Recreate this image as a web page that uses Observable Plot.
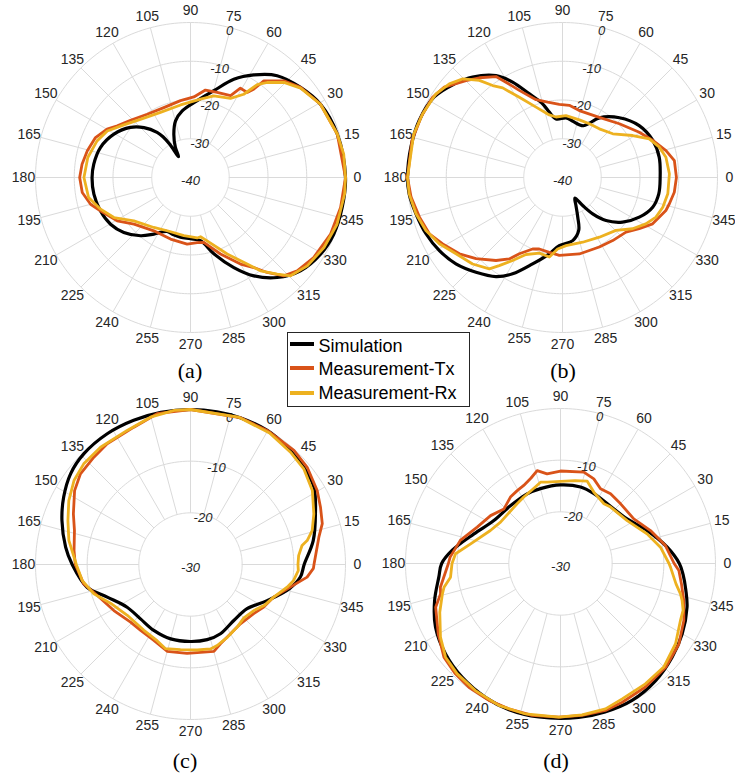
<!DOCTYPE html>
<html><head><meta charset="utf-8">
<script src="https://cdn.jsdelivr.net/npm/d3@7"></script>
<script src="https://cdn.jsdelivr.net/npm/@observablehq/plot@0.6"></script>
<style>
html,body{margin:0;padding:0;background:#fff;overflow:hidden;}
#root{position:relative;width:735px;height:781px;background:#fff;overflow:hidden;}
.panel{position:absolute;width:370px;height:356px;}
.cap{position:absolute;font-family:"Liberation Serif","Times New Roman",serif;font-size:22px;line-height:22px;color:#000;transform:translate(-50%,-50%);white-space:nowrap;}
#legend{position:absolute;left:287px;top:332px;width:183px;height:75px;box-sizing:border-box;border:1px solid #262626;background:#fff;font-family:"Liberation Sans",Arial,sans-serif;font-size:18px;line-height:18px;color:#000;z-index:5;}
#legend .sw{position:absolute;left:1.5px;width:24px;height:4px;}
#legend .lb{position:absolute;left:30.5px;white-space:nowrap;}
</style></head>
<body><div id="root"></div>
<script>
// ---- tick definitions ----
const thetaTicks = d3.range(0, 360, 15);
const ringsAB = [-30, -20, -10, 0];
const rTicksAB = [-40, -30, -20, -10, 0];
const ringsCD = [-20, -10, 0];
const rTicksCD = [-30, -20, -10, 0];
const seriesNames = ["Simulation", "Measurement-Tx", "Measurement-Rx"];
const seriesColors = ["#000000", "#D95319", "#EDB120"];
const captions = ["(a)", "(b)", "(c)", "(d)"];

// ---- data: [angle (deg), gain (dB)] ----
const aSim = [[0,0],[16.5,-0.5],[29.4,-1.5],[39.3,-3.3],[49.6,-5.5],[58.3,-8.9],[66.2,-12.3],[74.9,-16.8],[85,-20.1],[97.1,-22.7],[104.8,-24.9],[111,-28],[116.6,-31.3],[119.7,-33.8],[122,-29.8],[124,-27.3],[126.5,-25.5],[133,-22.4],[140.2,-19.8],[150.5,-17.3],[161.6,-15.5],[172.1,-14.8],[180,-14.6],[189.8,-14.7],[200.3,-15.2],[210.3,-16.1],[219.5,-17.7],[229.4,-20.2],[237.1,-22.6],[246.4,-24.8],[253,-24.6],[260.4,-24.4],[270,-24.2],[279,-23.5],[287,-19.4],[295.7,-14.2],[302.8,-9.8],[310.9,-5.85],[319.7,-2.8],[329.5,-1.05],[338.4,-0.25],[348.8,-0.1]];
const aTx = [[0,0],[16.5,-0.5],[29.4,-1.5],[39.3,-3.3],[46,-5.3],[52.8,-8.7],[54.4,-12],[56.3,-13.6],[60.8,-13.6],[63.9,-16.5],[72.6,-17],[80.3,-17.1],[87.6,-19.2],[97.4,-20],[110.9,-20.7],[124.4,-20.2],[136.3,-18.6],[144.8,-16.9],[149.9,-15.1],[157.2,-13.4],[165.5,-12.5],[173,-11.8],[180,-11.4],[187.9,-11.8],[195,-13.3],[200.3,-15.2],[210.6,-18],[219.5,-21.1],[235.5,-23.3],[252,-23.3],[267.1,-22.8],[275.9,-23.1],[281.6,-22.9],[291.4,-18.8],[300,-14.2],[305.1,-11.6],[308.9,-8.5],[313.5,-5],[318.8,-3.4],[327,-2.1],[338,-1],[348.7,-0.5]];
const aRx = [[0,0],[8.7,0],[16.5,-0.5],[29.4,-1.5],[39.1,-3.4],[45.5,-5.6],[51.1,-8.5],[54.3,-10.5],[57.4,-14.5],[63.2,-17.1],[74.1,-18.1],[82.7,-19.6],[97.8,-21.1],[114.8,-21.5],[130.8,-20.2],[141.7,-18.1],[150.8,-15.4],[158.6,-14.1],[169,-13],[180,-12.5],[191.1,-13.2],[199.4,-15.4],[207.6,-17.7],[217.4,-21.6],[233.7,-24],[246.4,-25],[263.5,-24.9],[276.3,-24.3],[279.6,-24.5],[284.7,-23.1],[295.6,-18.1],[303.2,-13.3],[306.9,-9.9],[311.9,-6.5],[315.5,-3.8],[322.9,-2.2],[332.3,-1.1],[342.3,-0.3],[353.9,0]];

const bSim = [[0,-14.8],[11.9,-14.5],[22.3,-14.8],[34.1,-16.1],[46.4,-18.7],[58.3,-21.9],[63.7,-24.4],[68,-25.6],[72.4,-25.7],[80,-25.2],[86.6,-24.6],[96.3,-24.8],[101.4,-22.8],[105.1,-20.3],[111.6,-16.8],[117.6,-12.2],[123.1,-8.6],[131.8,-5.2],[139.1,-3.1],[147.9,-0.9],[158.3,-0.2],[168.6,-0.1],[180,0],[186.1,-0.2],[193.9,-1.05],[202.4,-1.9],[210.7,-3.05],[219,-4.6],[227.6,-6.9],[236.1,-9.2],[242.6,-12],[250.9,-16.4],[260.2,-20],[267.3,-22.4],[279.2,-23.5],[287,-25.7],[291,-29],[295.7,-32],[301,-33.8],[305.8,-31.1],[309.7,-27.8],[315.3,-24.2],[323.4,-20.7],[332.7,-17.7],[341.8,-15.5],[350.4,-14.8]];
const bTx = [[0,-10.6],[8.6,-10.8],[14.6,-12.4],[22.3,-14.8],[30.5,-17],[43.4,-19.8],[58.6,-21.8],[75.9,-22.2],[84.6,-21.3],[92.5,-21.1],[101.1,-20.2],[108.8,-18.8],[116.4,-14.9],[120.7,-11.4],[123.4,-8.8],[129.8,-6.5],[134.9,-4.7],[142.6,-1.6],[148.3,-0.6],[156.9,-0.3],[166.3,0],[180,0],[187.4,-0.6],[195.5,-1.7],[202.9,-2.7],[209,-4.65],[216.5,-6.9],[223.2,-9.4],[231.3,-12.55],[236.8,-14.9],[240.5,-17.4],[247.3,-20],[252,-20.6],[260,-20.4],[267.7,-19.9],[282.4,-19.8],[297.9,-19.7],[308.5,-19.2],[319.3,-18.4],[326.3,-16.2],[332.8,-13.85],[342.3,-12],[346.2,-11.6],[352.5,-10.9]];
const bRx = [[2,-12.4],[11.1,-12.8],[17.4,-13.8],[24,-15.5],[30.9,-18.9],[41,-22.8],[52.9,-24.25],[63.4,-24.5],[73.7,-24.5],[86.8,-24],[96.1,-24.3],[101.9,-23.5],[110.6,-20.6],[118.3,-16.5],[123.7,-12.2],[127.2,-10.2],[130.6,-7],[135.3,-3.8],[140.4,-2.1],[146.5,-0.85],[155.5,-0.35],[163.8,0],[180,0],[186.1,-0.2],[193.9,-1.05],[201.2,-2.2],[208.3,-3.9],[215.6,-6.2],[223.9,-7.8],[231.3,-9.8],[234.3,-12],[239,-15],[244.6,-18],[253,-19.6],[260.6,-19.2],[266.1,-21.5],[273,-22.4],[287.3,-22.5],[301.7,-21.9],[315.3,-20.6],[323.8,-17.6],[330.9,-15.4],[337,-13.8],[343.5,-13],[351.2,-12.5]];

const cSim = [[0,-8],[11,-5.8],[22.1,-3.9],[32.1,-1.8],[40.7,-1.1],[50.5,-0.6],[60.2,-0.1],[71.3,0],[80.2,0],[90,0],[101,0],[111.5,0],[122.5,0],[134,-0.25],[142.9,-0.9],[152,-2.2],[161.1,-3.7],[172.1,-5.6],[180,-7.1],[192.4,-9.5],[201.4,-12.7],[214,-15.2],[227.4,-15.7],[240.9,-15.4],[255.1,-15.1],[270,-15.1],[282.5,-15.1],[293.4,-15.4],[307.7,-16.3],[322,-16.1],[334.8,-13.6],[346.3,-10.3],[353.5,-8.6]];
const cTx = [[0,-6.1],[12,-4.6],[17.2,-3.3],[23.8,-2.5],[30.3,-1.6],[39.8,-0.6],[47.8,-0.2],[60.2,-0.1],[71.4,0],[90,0],[102.5,-0.1],[112.4,-1.25],[124.6,-1.6],[132,-2.05],[140.5,-2.4],[147.5,-3.4],[156.6,-5.3],[163.7,-6.6],[173.2,-7.3],[180,-7.7],[190.3,-9],[198.4,-11],[211,-12.7],[223.9,-13.9],[232.9,-14],[244.2,-13.7],[254.9,-12.6],[267.8,-12.8],[276.5,-12.9],[285.1,-12.6],[290.7,-13.6],[300,-14.5],[310.1,-15],[322.1,-14.5],[329.8,-13.6],[338.6,-12.7],[347.2,-10.2],[353.8,-7.3],[358.2,-6.2]];
const cRx = [[0,-9.2],[4.7,-9],[9.7,-8.1],[11.6,-6.95],[15.6,-5.55],[22.3,-4.2],[31.3,-2.4],[40.2,-1.3],[48.3,-0.9],[59,-0.3],[72,0],[90,0],[96,0],[105.2,-0.45],[115.3,-1.3],[127.5,-1.4],[136.7,-1.6],[144.2,-2.2],[152.3,-3.4],[160.3,-4.8],[168.8,-6],[180,-7.9],[188.3,-8.8],[196.9,-10.45],[205.8,-12.8],[218.8,-14.3],[234.7,-14.4],[246.3,-13.9],[253.5,-13],[263.3,-13.4],[274.5,-13.4],[283.3,-13.2],[288.2,-13.5],[296.8,-14.2],[306.7,-14.9],[315,-15.4],[324,-14.85],[330.8,-13.7],[338.6,-12.7],[346.8,-10.8],[351.2,-9.8],[356.8,-9.1]];

const dSim = [[0,-7],[8.7,-9.1],[20.8,-12.05],[33.8,-14.5],[50.4,-15.3],[64.4,-15],[75.3,-14.7],[90,-14.8],[105,-15],[115.6,-15.05],[131.6,-15.2],[147.2,-14.65],[161.1,-12.3],[173,-8.9],[180,-7],[186.4,-6.3],[196.4,-4.6],[207,-2.85],[218.1,-1.7],[229.1,-0.9],[240.7,-0.3],[250.6,0],[262,0],[276.7,0],[286.7,0],[297.6,-0.1],[309.1,-0.8],[320,-1.8],[330,-2.8],[341,-4.1],[348,-5.2],[355,-6.2]];
const dTx = [[0,-8],[9.7,-9.4],[20.1,-11.45],[31.3,-13.4],[44.8,-13.6],[54.3,-13.4],[61.8,-13.6],[68.5,-12.4],[75.7,-11.75],[90,-12.1],[98.5,-12.45],[104.1,-11.45],[109,-12.5],[115.2,-13.3],[120.7,-13.6],[127,-13.9],[136,-14.8],[145.6,-13.6],[156.4,-12.4],[167,-10.1],[176.7,-8.6],[180,-8.3],[191.2,-6.3],[194.2,-6.05],[199.3,-4.4],[209.9,-2.7],[218.8,-1.05],[226.4,-0.5],[233.5,-0.2],[242.4,-0.1],[250.4,-0.15],[259.4,-0.1],[269.4,-0.25],[278.1,-0.3],[287,-0.25],[294,-0.6],[304.5,-1],[315.4,-1.4],[325.8,-2.3],[335.2,-3.7],[343.3,-5.1],[350,-6.2],[356.6,-7.05]];
const dRx = [[0,-9],[9.3,-10.4],[18.9,-12.3],[32.8,-14.65],[48.4,-15.4],[54,-15.7],[65,-14.75],[72,-13.25],[80,-13.7],[90,-14.1],[99.3,-14.05],[103.8,-13.8],[110,-14.6],[118.9,-15.3],[126,-15.7],[145.4,-15.9],[154.8,-15],[167.7,-12.2],[174.7,-9.6],[180,-9],[187.1,-8.55],[191.5,-7],[194.4,-6.4],[202,-4.8],[211.5,-2.75],[219.2,-1.3],[226.9,-0.75],[236.2,-0.4],[246.5,-0.05],[256.9,-0.1],[269.4,-0.25],[278.1,-0.4],[287.2,-0.55],[294.5,-1.2],[305.2,-1.5],[314.9,-1.7],[325.1,-2.85],[334.6,-4.3],[339.1,-4.6],[343.1,-5.4],[345.8,-6.05],[350,-7.3],[358.1,-8.7]];

// ---- layout ----
const R = 155;          // pixel radius of the 0 dB ring
const W = 370, H = 356; // size of each panel svg
const GRID = "#dadada";
const TXT = "#262626";
const FONT = "'Liberation Sans', Arial, sans-serif";

const panels = [
  {cx: 190,   cy: 177, rMin: -40, rings: ringsAB, rTicks: rTicksAB, series: [aSim, aTx, aRx], cap: [190, 373]},
  {cx: 561.5, cy: 177, rMin: -40, rings: ringsAB, rTicks: rTicksAB, series: [bSim, bTx, bRx], cap: [563, 373]},
  {cx: 190,   cy: 564, rMin: -30, rings: ringsCD, rTicks: rTicksCD, series: [cSim, cTx, cRx], cap: [185, 763]},
  {cx: 560,   cy: 563, rMin: -30, rings: ringsCD, rTicks: rTicksCD, series: [dSim, dTx, dRx], cap: [556, 763]}
];

function makePanel(p) {
  const u = db => (Math.max(db, p.rMin) - p.rMin) / (0 - p.rMin);
  const rad = a => a * Math.PI / 180;
  const X = (r, a) => r * Math.cos(rad(a));
  const Y = (r, a) => r * Math.sin(rad(a));
  const ringPts = p.rings.flatMap(db => d3.range(0, 360.01, 1.5).map(a => ({db, a})));
  const inner = u(p.rings[0]);
  const labR = 1 + 12 / R;
  const rLab = db => Math.max(0, u(db) - 3.5 / R);
  const marks = [
    Plot.line(ringPts, {x: d => X(u(d.db), d.a), y: d => Y(u(d.db), d.a), z: "db", stroke: GRID, strokeWidth: 1}),
    Plot.link(thetaTicks, {x1: a => X(inner, a), y1: a => Y(inner, a), x2: a => X(1, a), y2: a => Y(1, a), stroke: GRID, strokeWidth: 1}),
    Plot.text(thetaTicks, {x: a => X(labR, a), y: a => Y(labR, a), text: a => String(a), fontSize: 14, fill: TXT, textAnchor: "middle", lineAnchor: "middle"}),
    Plot.text(p.rTicks, {x: db => X(rLab(db), 75), y: db => Y(rLab(db), 75) - (db === p.rMin ? 3 / R : 0), text: db => String(db), fontSize: 13, fontStyle: "italic", fill: TXT, textAnchor: "middle", lineAnchor: "middle"})
  ];
  p.series.forEach((s, i) => {
    marks.push(Plot.line(s, {
      x: d => X(u(d[1]), d[0]), y: d => Y(u(d[1]), d[0]),
      stroke: seriesColors[i], strokeWidth: i === 0 ? 3.2 : 2.8,
      curve: i === 0 ? "catmull-rom-closed" : "linear-closed",
      strokeLinejoin: "round"
    }));
  });
  return Plot.plot({
    width: W, height: H, margin: 0,
    x: {domain: [-W / 2 / R, W / 2 / R], axis: null},
    y: {domain: [-H / 2 / R, H / 2 / R], axis: null},
    style: {background: "none", overflow: "visible", fontFamily: FONT, maxWidth: "none"},
    marks
  });
}

const root = document.getElementById("root");
panels.forEach((p, k) => {
  const div = document.createElement("div");
  div.className = "panel";
  div.style.left = (p.cx - W / 2) + "px";
  div.style.top = (p.cy - H / 2) + "px";
  div.appendChild(makePanel(p));
  root.appendChild(div);
  const cap = document.createElement("div");
  cap.className = "cap";
  cap.style.left = p.cap[0] + "px";
  cap.style.top = (p.cap[1] - 2) + "px";
  cap.textContent = captions[k];
  root.appendChild(cap);
});

// legend
const leg = document.createElement("div");
leg.id = "legend";
const swTop = [9.3, 33.3, 57.5];
const lbTop = [3.8, 26.8, 51];
seriesNames.forEach((name, i) => {
  const sw = document.createElement("div");
  sw.className = "sw";
  sw.style.top = swTop[i] + "px";
  sw.style.background = seriesColors[i];
  leg.appendChild(sw);
  const lb = document.createElement("div");
  lb.className = "lb";
  lb.style.top = lbTop[i] + "px";
  lb.textContent = name;
  leg.appendChild(lb);
});
root.appendChild(leg);
</script>
</body></html>
